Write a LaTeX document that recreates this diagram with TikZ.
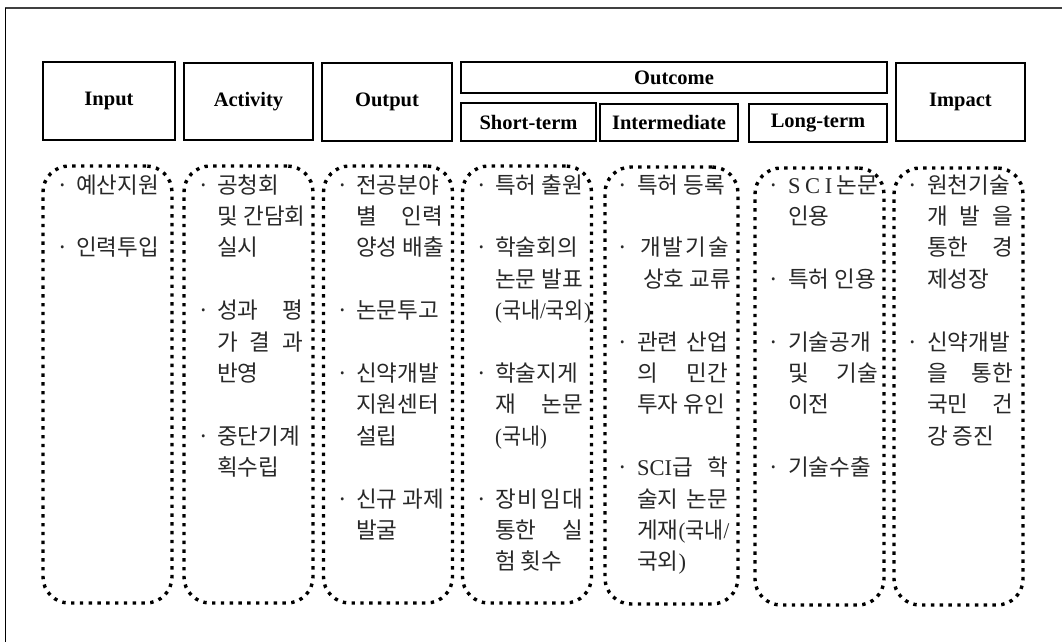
\documentclass[tikz,border=0pt]{standalone}
\usepackage{fontspec}
\setmainfont{Liberation Serif}
\newfontfamily\kr{Noto Sans CJK KR}
\definecolor{txt}{RGB}{40,40,40}
\newcommand\lat[1]{{\rmfamily #1}}
\newcommand\kline[4]{\node[kl] (#1) at ({#2pt},{-(193+31.4*#3)*1pt}) {#4};}
\newcommand\kjust[5]{\node[kl] (#1) at ({#2pt},{-(193+31.4*#3)*1pt}) {\makebox[#4pt][l]{#5}};}
\newcommand\kbul[3]{\node[kb] (#1) at ({#2pt},{-(193+31.4*#3)*1pt}) {·};}
\begin{document}
\begin{tikzpicture}[x=1pt,y=1pt,
  kl/.style={anchor=base west, inner sep=0pt, text=txt, font=\kr\fontsize{22.5}{26}\selectfont},
  kb/.style={anchor=base, inner sep=0pt, text=txt, font=\kr\fontsize{22.5}{26}\selectfont},
  hbox/.style={draw, line width=1.7pt, inner sep=0pt, font=\bfseries\fontsize{20.5}{24}\selectfont},
  dotbox/.style={draw, line width=3.4pt, dash pattern=on 3.4pt off 5.4pt, rounded corners=26pt, minimum width=129pt, minimum height=437pt, inner sep=0pt}
]
\useasboundingbox (0,0) rectangle (1062,-642);
% frame
\draw[line width=1.6pt, black!75] (5,-8) -- (1062,-8);
\draw[line width=1pt] (5,-8) -- (5,-642);
% header
\node[hbox, minimum width=132pt, minimum height=78pt] (hin) at (109,-101) {Input};
\node[hbox, minimum width=129pt, minimum height=77pt] (hact) at (248.5,-101.5) {Activity};
\node[hbox, minimum width=130pt, minimum height=78pt] (hout) at (387,-102) {Output};
\node[hbox, minimum width=426pt, minimum height=31pt] (hoc) at (674,-77.5) {Outcome};
\node[hbox, minimum width=135pt, minimum height=38pt] (hst) at (528.5,-122) {Short-term};
\node[hbox, minimum width=138pt, minimum height=37pt] (hmid) at (669,-122.5) {Intermediate};
\node[hbox, minimum width=138pt, minimum height=38pt] (hlt) at (818,-123) {Long-term};
\node[hbox, minimum width=129pt, minimum height=78pt] (him) at (960.5,-102) {Impact};
% dotted columns
\node[dotbox] (c1) at (107.5,-384.5) {};
\node[dotbox] (c2) at (248.5,-384.5) {};
\node[dotbox] (c3) at (388,-384.5) {};
\node[dotbox] (c4) at (527,-384.5) {};
\node[dotbox, minimum width=133pt] (c5) at (671.5,-385.5) {};
\node[dotbox] (c6) at (819.5,-386.5) {};
\node[dotbox] (c7) at (958.5,-386.5) {};
% Input
\kbul{b1a}{63}{0}\kline{t1a}{76}{0}{예산지원}
\kbul{b1b}{63}{2}\kline{t1b}{76}{2}{인력투입}
% Activity
\kbul{b2a}{204}{0}\kline{t2a}{217}{0}{공청회}
\kline{t2b}{217}{1}{및\kern5.5pt 간담회}
\kline{t2c}{217}{2}{실시}
\kbul{b2d}{204}{4}\kjust{t2d}{217}{4}{86}{성과\hfill 평}
\kjust{t2e}{217}{5}{86}{가\hfill 결\hfill 과}
\kline{t2f}{217}{6}{반영}
\kbul{b2g}{204}{8}\kline{t2g}{217}{8}{중단기계}
\kline{t2h}{217}{9}{획수립}
% Output
\kbul{b3a}{343}{0}\kline{t3a}{356}{0}{전공분야}
\kjust{t3b}{356}{1}{87}{별\hfill 인력}
\kline{t3c}{356}{2}{양성 배출}
\kbul{b3d}{343}{4}\kline{t3d}{356}{4}{논문투고}
\kbul{b3e}{343}{6}\kline{t3e}{356}{6}{신약개발}
\kline{t3f}{356}{7}{지원센터}
\kline{t3g}{356}{8}{설립}
\kbul{b3h}{343}{10}\kline{t3h}{356}{10}{신규 과제}
\kline{t3i}{356}{11}{발굴}
% Short-term
\kbul{b4a}{482}{0}\kline{t4a}{495}{0}{특허 출원}
\kbul{b4b}{482}{2}\kline{t4b}{495}{2}{학술회의}
\kjust{t4c}{495}{3}{88}{논문\hfill 발표}
\kline{t4d}{495}{4}{\scalebox{0.92}[1]{\lat{(}국내\lat{/}국외\lat{)}}}
\kbul{b4e}{482}{6}\kline{t4e}{495}{6}{학술지게}
\kjust{t4f}{495}{7}{88}{재\hfill 논문}
\kline{t4g}{495}{8}{\scalebox{0.92}[1]{\lat{(}국내\lat{)}}}
\kbul{b4h}{482}{10}\kjust{t4h}{495}{10}{88}{장\hfill 비\hfill 임\hfill 대}
\kjust{t4i}{495}{11}{88}{통한\hfill 실}
\kline{t4j}{495}{12}{험 횟수}
% Intermediate
\kbul{b5a}{623}{0}\kline{t5a}{637}{0}{특허 등록}
\kbul{b5b}{623}{2}\node[kl] (t5b) at (640,{-(193+31.4*2)}) {\makebox[89pt][l]{개\hfill 발\hfill 기\hfill 술}};
\kline{t5c}{643}{3}{상호 교류}
\kbul{b5d}{623}{5}\kjust{t5d}{637}{5}{91}{관련\hfill 산업}
\kjust{t5e}{637}{6}{91}{의\hfill 민간}
\kline{t5f}{637}{7}{투자 유인}
\kbul{b5g}{623}{9}\kjust{t5g}{637}{9}{91}{\lat{SCI}급\hfill 학}
\kjust{t5h}{637}{10}{91}{술지\hfill 논문}
\kline{t5i}{637}{11}{게재\scalebox{0.92}[1]{\lat{(}국내\lat{/}}}
\kline{t5j}{637}{12}{국외\lat{)}}
% Long-term
\kbul{b6a}{774}{0}\kjust{t6a}{788}{0}{90}{\lat{S}\hfill\lat{C}\hfill\lat{I}\hfill 논문}
\kline{t6b}{788}{1}{인용}
\kbul{b6c}{774}{3}\kline{t6c}{788}{3}{특허 인용}
\kbul{b6d}{774}{5}\kline{t6d}{788}{5}{기술공개}
\kjust{t6e}{788}{6}{90}{및\hfill 기술}
\kline{t6f}{788}{7}{이전}
\kbul{b6g}{774}{9}\kline{t6g}{788}{9}{기술수출}
% Impact
\kbul{b7a}{913}{0}\kline{t7a}{927}{0}{원천기술}
\kjust{t7b}{927}{1}{86}{개\hfill 발\hfill 을}
\kjust{t7c}{927}{2}{86}{통한\hfill 경}
\kline{t7d}{927}{3}{제성장}
\kbul{b7e}{913}{5}\kline{t7e}{927}{5}{신약개발}
\kjust{t7f}{927}{6}{86}{을\hfill 통한}
\kjust{t7g}{927}{7}{86}{국민\hfill 건}
\kline{t7h}{927}{8}{강 증진}
\end{tikzpicture}
\end{document}
